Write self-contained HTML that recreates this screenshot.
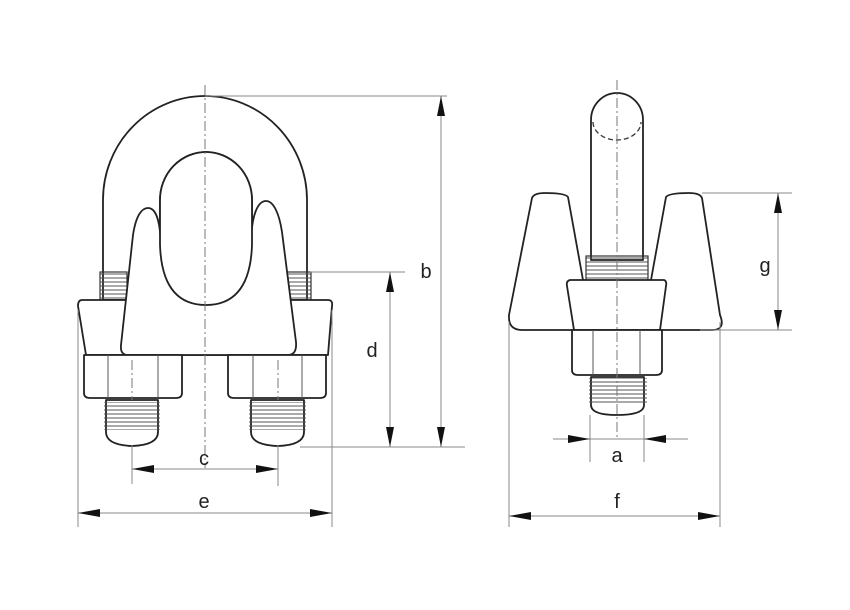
<!DOCTYPE html>
<html><head><meta charset="utf-8"><style>
html,body{margin:0;padding:0;background:#fff;width:850px;height:610px;overflow:hidden}
svg{display:block}
text{font-family:"Liberation Sans","DejaVu Sans",sans-serif;font-size:20px;fill:#222;text-anchor:middle}
.o{fill:#fff;stroke:#222;stroke-width:1.8;stroke-linejoin:round}
.t{stroke:#555;stroke-width:1;fill:none}
.d{stroke:#888;stroke-width:1;fill:none}
.c{stroke:#777;stroke-width:1;fill:none;stroke-dasharray:10 3 2 3}
.a{fill:#111}
</style></head><body>
<svg width="850" height="610" viewBox="0 0 850 610">
<defs>
<pattern id="th" width="4" height="4" patternUnits="userSpaceOnUse"><line x1="0" y1="2" x2="4" y2="2" stroke="#555" stroke-width="1"/></pattern>
</defs>
<path class="o" d="M103,300 L103,200 A102,104 0 0 1 307,200 L307,300 L252,300 L252,200 A46,48 0 0 0 160,200 L160,300 Z"/>
<rect x="100" y="272" width="27" height="30" fill="url(#th)" stroke="#333" stroke-width="1.2"/>
<rect x="285" y="272" width="26" height="30" fill="url(#th)" stroke="#333" stroke-width="1.2"/>
<path class="o" d="M82,300 L328,300 Q333,300 332,306 L328,355 L86,355 L78,306 Q78,300 82,300 Z"/>
<path class="o" d="M128,355 Q120,355 121,345 L133,235 C136,215 142,208 148,208 C156,208 160,220 161,245 Q163,300 206,305 Q250,300 251,240 C252,214 258,201 266,201 C273,201 279,212 282,232 L296,342 Q297,355 288,355 Z"/>
<path class="o" d="M160,245 L160,200 A46,48 0 0 1 252,200 L252,245 Q250,305 206,305 Q162,305 160,245 Z"/>
<path class="o" d="M84,355 L182,355 L182,393 Q182,398 176,398 L90,398 Q84,398 84,393 Z"/>
<line class="t" x1="108" y1="355" x2="108" y2="398"/><line class="t" x1="158" y1="355" x2="158" y2="398"/>
<path class="o" d="M228,355 L326,355 L326,393 Q326,398 320,398 L234,398 Q228,398 228,393 Z"/>
<line class="t" x1="253" y1="355" x2="253" y2="398"/><line class="t" x1="302" y1="355" x2="302" y2="398"/>
<path class="o" d="M106,400 L158,400 L158,432 Q158,445 132,446 Q106,445 106,432 Z"/>
<rect x="104" y="402" width="56" height="28" fill="url(#th)" stroke="none"/>
<path class="o" d="M251,400 L304,400 L304,432 Q304,445 278,446 Q251,445 251,432 Z"/>
<rect x="249" y="402" width="57" height="28" fill="url(#th)" stroke="none"/>
<line class="c" x1="205" y1="85" x2="205" y2="468"/>
<line class="c" x1="132" y1="360" x2="132" y2="400"/>
<line class="c" x1="278" y1="360" x2="278" y2="400"/>
<line class="d" x1="205" y1="96" x2="447" y2="96"/>
<line class="d" x1="310" y1="272" x2="405" y2="272"/>
<line class="d" x1="300" y1="447" x2="465" y2="447"/>
<line class="d" x1="441" y1="96" x2="441" y2="447"/>
<polygon class="a" points="441,96 437,116 445,116"/><polygon class="a" points="441,447 437,427 445,427"/>
<line class="d" x1="390" y1="272" x2="390" y2="447"/>
<polygon class="a" points="390,272 386,292 394,292"/><polygon class="a" points="390,447 386,427 394,427"/>
<text x="426" y="278">b</text>
<text x="372" y="357">d</text>
<line class="d" x1="132" y1="445" x2="132" y2="484"/>
<line class="d" x1="278" y1="445" x2="278" y2="486"/>
<line class="d" x1="132" y1="469" x2="278" y2="469"/>
<polygon class="a" points="132,469 154,465 154,473"/><polygon class="a" points="278,469 256,465 256,473"/>
<text x="204" y="465">c</text>
<line class="d" x1="78" y1="310" x2="78" y2="527"/>
<line class="d" x1="332" y1="310" x2="332" y2="527"/>
<line class="d" x1="78" y1="513" x2="332" y2="513"/>
<polygon class="a" points="78,513 100,509 100,517"/><polygon class="a" points="332,513 310,509 310,517"/>
<text x="204" y="508">e</text>

<path class="o" d="M591,260 L591,120 A26,27 0 0 1 643,120 L643,260 Z"/>
<path d="M593,122 A24,18 0 0 0 641,122" fill="none" stroke="#333" stroke-width="1.3" stroke-dasharray="5 3"/>
<path class="o" d="M532,198 Q534,193 545,193 Q565,193 568,197 L583,280 L583,330 L522,330 Q508,330 509,315 Z"/>
<path class="o" d="M702,198 Q700,193 689,193 Q669,193 666,197 L651,280 L651,330 L712,330 Q726,330 720,315 Z"/>
<rect x="586" y="256" width="62" height="26" fill="url(#th)" stroke="#333" stroke-width="1.2"/>
<path class="o" d="M570,280 L664,280 Q667,281 666,286 L660,330 L574,330 L567,286 Q566,281 570,280 Z"/>
<path class="o" d="M572,330 L662,330 L662,370 Q662,375 656,375 L578,375 Q572,375 572,370 Z"/>
<line class="t" x1="593" y1="330" x2="593" y2="375"/><line class="t" x1="640" y1="330" x2="640" y2="375"/>
<path class="o" d="M591,377 L644,377 L644,405 Q644,415 617,415 Q591,415 591,405 Z"/>
<rect x="589" y="378" width="58" height="25" fill="url(#th)" stroke="none"/>
<line class="c" x1="617" y1="80" x2="617" y2="440"/>
<line class="d" x1="702" y1="193" x2="792" y2="193"/>
<line class="d" x1="700" y1="330" x2="792" y2="330"/>
<line class="d" x1="778" y1="193" x2="778" y2="330"/>
<polygon class="a" points="778,193 774,213 782,213"/><polygon class="a" points="778,330 774,310 782,310"/>
<text x="765" y="272">g</text>
<line class="d" x1="590" y1="415" x2="590" y2="462"/>
<line class="d" x1="644" y1="415" x2="644" y2="462"/>
<line class="d" x1="553" y1="439" x2="688" y2="439"/>
<polygon class="a" points="590,439 568,435 568,443"/><polygon class="a" points="644,439 666,435 666,443"/>
<text x="617" y="462">a</text>
<line class="d" x1="509" y1="322" x2="509" y2="527"/>
<line class="d" x1="720" y1="322" x2="720" y2="527"/>
<line class="d" x1="509" y1="516" x2="720" y2="516"/>
<polygon class="a" points="509,516 531,512 531,520"/><polygon class="a" points="720,516 698,512 698,520"/>
<text x="617" y="508">f</text>
</svg>
</body></html>
